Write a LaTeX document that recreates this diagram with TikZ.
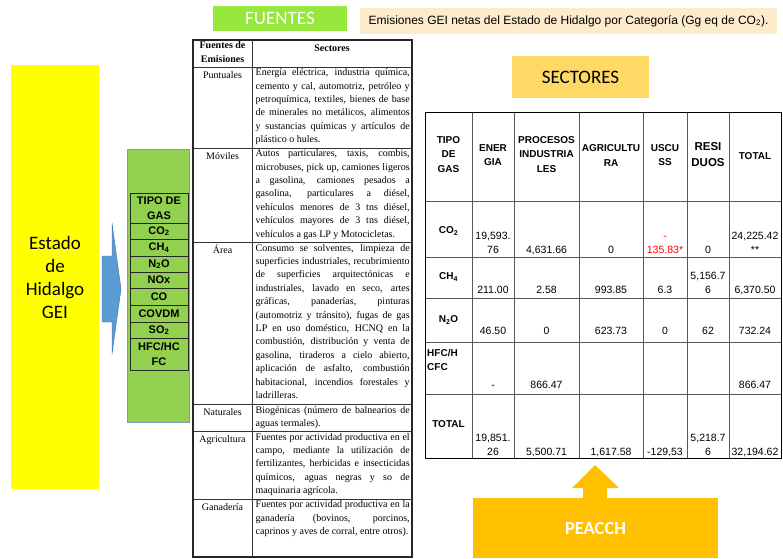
\documentclass[tikz,border=0pt]{standalone}
\usepackage{fontspec}
\setmainfont{Liberation Serif}
\newfontfamily\calibri{Carlito}
\newfontfamily\arial{Liberation Sans}
\usetikzlibrary{positioning}

\definecolor{hidyellow}{RGB}{255,255,0}
\definecolor{gasgreen}{RGB}{146,208,80}
\definecolor{fuegreen}{RGB}{150,232,60}
\definecolor{titlecream}{RGB}{253,236,204}
\definecolor{secgold}{RGB}{255,217,102}
\definecolor{peorange}{RGB}{255,192,0}
\definecolor{arrowblue}{RGB}{91,155,213}
\definecolor{edgeblue}{RGB}{65,113,156}

\newcommand{\jl}[1]{\makebox[154pt][s]{#1}}

\tikzset{
  label box/.style={inner sep=0, font=\calibri\fontsize{19}{23}\selectfont, align=center},
  src cell/.style={anchor=north, inner sep=0, yshift=-1.5pt, font=\fontsize{10}{13.4}\selectfont, align=center, execute at begin node=\strut},
  sec cell/.style={anchor=north west, inner sep=0, yshift=-1.5pt, font=\fontsize{10}{13.4}\selectfont, align=left, execute at begin node=\strut},
  gas cell/.style={inner sep=0, font=\arial\bfseries\fontsize{11}{15}\selectfont, align=center},
  head cell/.style={inner sep=0, font=\arial\bfseries\fontsize{10}{14.5}\selectfont, align=center, execute at begin node=\strut, execute at end node=\strut},
  val cell/.style={anchor=south, inner sep=0, font=\arial\fontsize{10.5}{14}\selectfont, align=center, execute at end node=\strut},
  thin rule/.style={line width=0.6pt, black!80},
  thick rule/.style={line width=1.2pt, black!85},
  gas rule/.style={line width=0.9pt, black!85},
  grid rule/.style={line width=0.9pt, black!65},
}

\begin{document}
\begin{tikzpicture}[x=1pt,y=-1pt]
\useasboundingbox (0,0) rectangle (783,558);

% titles
\node[label box, fill=fuegreen, text=white, minimum width=134pt, minimum height=25pt] (fuentes) at (280,18.5) {FUENTES};
\node[inner sep=0, fill=titlecream, minimum width=417pt, minimum height=26pt, font=\arial\fontsize{12}{14}\selectfont] (titulo) at (568.5,21) {Emisiones GEI netas del Estado de Hidalgo por Categoría (Gg eq de CO\textsubscript{2}).};
\node[label box, fill=secgold, minimum width=137pt, minimum height=42pt] (sectores) at (580.5,77) {SECTORES};

% left side
\node[label box, fill=hidyellow, minimum width=88pt, minimum height=424pt] (estado) at (55,277) {Estado\\de\\Hidalgo\\GEI};
\filldraw[fill=arrowblue, draw=edgeblue, line width=0.4pt] (102,256) -- (112,256) -- (112,223) -- (121,289) -- (112,354) -- (112,322) -- (102,322) -- cycle;
\node[fill=gasgreen, draw=edgeblue!70, line width=0.8pt, minimum width=62pt, minimum height=273pt, inner sep=0] (gasbox) at (158,285.5) {};
\draw[gas rule] (130,193) rectangle (188,370);
\foreach \y in {223,239,256,272,288,305,322,338}
  \draw[gas rule] (130,\y) -- (188,\y);
\node[gas cell] (gas-tipo) at (159,208) {TIPO DE\\GAS};
\node[gas cell] (gas-co2) at (159,231) {CO\textsubscript{2}};
\node[gas cell] (gas-ch4) at (159,247.5) {CH\textsubscript{4}};
\node[gas cell] (gas-n2o) at (159,264) {N\textsubscript{2}O};
\node[gas cell] (gas-nox) at (159,280) {NOx};
\node[gas cell] (gas-co) at (159,296.5) {CO};
\node[gas cell] (gas-covdm) at (159,313.5) {COVDM};
\node[gas cell] (gas-so2) at (159,330) {SO\textsubscript{2}};
\node[gas cell] (gas-hfc) at (159,354) {HFC/HC\\FC};

% fuentes table
\draw[thick rule] (193,40) rectangle (412,557);
\draw[thin rule] (252,40) -- (252,557);
\foreach \y in {67,148,242.5,404.5,431.5,499}
  \draw[thin rule] (193,\y) -- (412,\y);
\node[src cell, font=\bfseries\fontsize{10}{13.4}\selectfont] (src-head) at (222.5,40) {Fuentes de\\Emisiones};
\node[src cell, font=\bfseries\fontsize{10}{13.4}\selectfont] (sec-head) at (332,40) {Sectores};
\node[src cell] (src-punt) at (222.5,67) {Puntuales};
\node[src cell] (src-movi) at (222.5,148) {Móviles};
\node[src cell] (src-area) at (222.5,242.5) {Área};
\node[src cell] (src-natu) at (222.5,404.5) {Naturales};
\node[src cell] (src-agri) at (222.5,431.5) {Agricultura};
\node[src cell] (src-gana) at (222.5,499) {Ganadería};
\node[sec cell] (sec-punt) at (255.5,67) {\jl{Energía eléctrica, industria química,}\\
  \jl{cemento y cal, automotriz, petróleo y}\\
  \jl{petroquímica, textiles, bienes de base}\\
  \jl{de minerales no metálicos, alimentos}\\
  \jl{y sustancias químicas y artículos de}\\
  plástico o hules.};
\node[sec cell] (sec-movi) at (255.5,148) {\jl{Autos particulares, taxis, combis,}\\
  \jl{microbuses, pick up, camiones ligeros}\\
  \jl{a gasolina, camiones pesados a}\\
  \jl{gasolina, particulares a diésel,}\\
  \jl{vehículos menores de 3 tns diésel,}\\
  \jl{vehículos mayores de 3 tns diésel,}\\
  vehículos a gas LP y Motocicletas.};
\node[sec cell] (sec-area) at (255.5,242.5) {\jl{Consumo se solventes, limpieza de}\\
  \jl{superficies industriales, recubrimiento}\\
  \jl{de superficies arquitectónicas e}\\
  \jl{industriales, lavado en seco, artes}\\
  \jl{gráficas, panaderías, pinturas}\\
  \jl{(automotriz y tránsito), fugas de gas}\\
  \jl{LP en uso doméstico, HCNQ en la}\\
  \jl{combustión, distribución y venta de}\\
  \jl{gasolina, tiraderos a cielo abierto,}\\
  \jl{aplicación de asfalto, combustión}\\
  \jl{habitacional, incendios forestales y}\\
  ladrilleras.};
\node[sec cell] (sec-natu) at (255.5,404.5) {\jl{Biogénicas (número de balnearios de}\\
  aguas termales).};
\node[sec cell] (sec-agri) at (255.5,431.5) {\jl{Fuentes por actividad productiva en el}\\
  \jl{campo, mediante la utilización de}\\
  \jl{fertilizantes, herbicidas e insecticidas}\\
  \jl{químicos, aguas negras y so de}\\
  maquinaria agrícola.};
\node[sec cell] (sec-gana) at (255.5,499) {\jl{Fuentes por actividad productiva en la}\\
  \jl{ganadería (bovinos, porcinos,}\\
  caprinos y aves de corral, entre otros).};

% emisiones table
\foreach \x in {472,514,579,643,687,729}
  \draw[grid rule] (\x,112) -- (\x,458);
\foreach \y in {201,257,298,342,394}
  \draw[grid rule] (425,\y) -- (781,\y);
\draw[line width=1pt, black] (425,112) rectangle (781,458);
\node[head cell] (hd-tipo) at (448.5,156.5) {TIPO\\DE\\GAS};
\node[head cell] (hd-ener) at (493,157) {ENER\\GIA};
\node[head cell] (hd-proc) at (546.5,156.5) {PROCESOS\\INDUSTRIA\\LES};
\node[head cell] (hd-agri) at (611,157.5) {AGRICULTU\\RA};
\node[head cell] (hd-uscu) at (665,157) {USCU\\SS};
\node[head cell, font=\arial\bfseries\fontsize{11.5}{16}\selectfont] (hd-resi) at (708,157) {RESI\\DUOS};
\node[head cell] (hd-total) at (755,157) {TOTAL};
\node[head cell] (row-co2) at (448.5,231) {CO\textsubscript{2}};
\node[head cell] (row-ch4) at (448.5,277) {CH\textsubscript{4}};
\node[head cell] (row-n2o) at (448.5,320) {N\textsubscript{2}O};
\node[head cell, anchor=west, align=left] (row-hfc) at (427,362) {HFC/H\\CFC};
\node[head cell] (row-total) at (448.5,425) {TOTAL};
% CO2
\node[val cell] (co2-ener) at (493,258) {19,593.\\76};
\node[val cell] (co2-proc) at (546.5,258) {4,631.66};
\node[val cell] (co2-agri) at (611,258) {0};
\node[val cell, text=red] (co2-uscu) at (665,258) {-\\135.83*};
\node[val cell] (co2-resi) at (708,258) {0};
\node[val cell] (co2-total) at (755,258) {24,225.42\\**};
% CH4
\node[val cell] (ch4-ener) at (493,298) {211.00};
\node[val cell] (ch4-proc) at (546.5,298) {2.58};
\node[val cell] (ch4-agri) at (611,298) {993.85};
\node[val cell] (ch4-uscu) at (665,298) {6.3};
\node[val cell] (ch4-resi) at (708,298) {5,156.7\\6};
\node[val cell] (ch4-total) at (755,298) {6,370.50};
% N2O
\node[val cell] (n2o-ener) at (493,339) {46.50};
\node[val cell] (n2o-proc) at (546.5,339) {0};
\node[val cell] (n2o-agri) at (611,339) {623.73};
\node[val cell] (n2o-uscu) at (665,339) {0};
\node[val cell] (n2o-resi) at (708,339) {62};
\node[val cell] (n2o-total) at (755,339) {732.24};
% HFC/HCFC
\node[val cell] (hfc-ener) at (493,393) {-};
\node[val cell] (hfc-proc) at (546.5,393) {866.47};
\node[val cell] (hfc-total) at (755,393) {866.47};
% TOTAL
\node[val cell] (tot-ener) at (493,460) {19,851.\\26};
\node[val cell] (tot-proc) at (546.5,460) {5,500.71};
\node[val cell] (tot-agri) at (611,460) {1,617.58};
\node[val cell] (tot-uscu) at (665,460) {-129,53};
\node[val cell] (tot-resi) at (708,460) {5,218.7\\6};
\node[val cell] (tot-total) at (755,460) {32,194.62};

% peacch
\node[label box, fill=peorange, text=white, font=\calibri\bfseries\fontsize{18.5}{22}\selectfont, minimum width=245pt, minimum height=60pt] (peacch) at (595.5,528) {PEACCH};
\fill[peorange] (583,499) -- (583,488) -- (572,488) -- (595,465) -- (619,488) -- (607,488) -- (607,499) -- cycle;
\end{tikzpicture}
\end{document}
